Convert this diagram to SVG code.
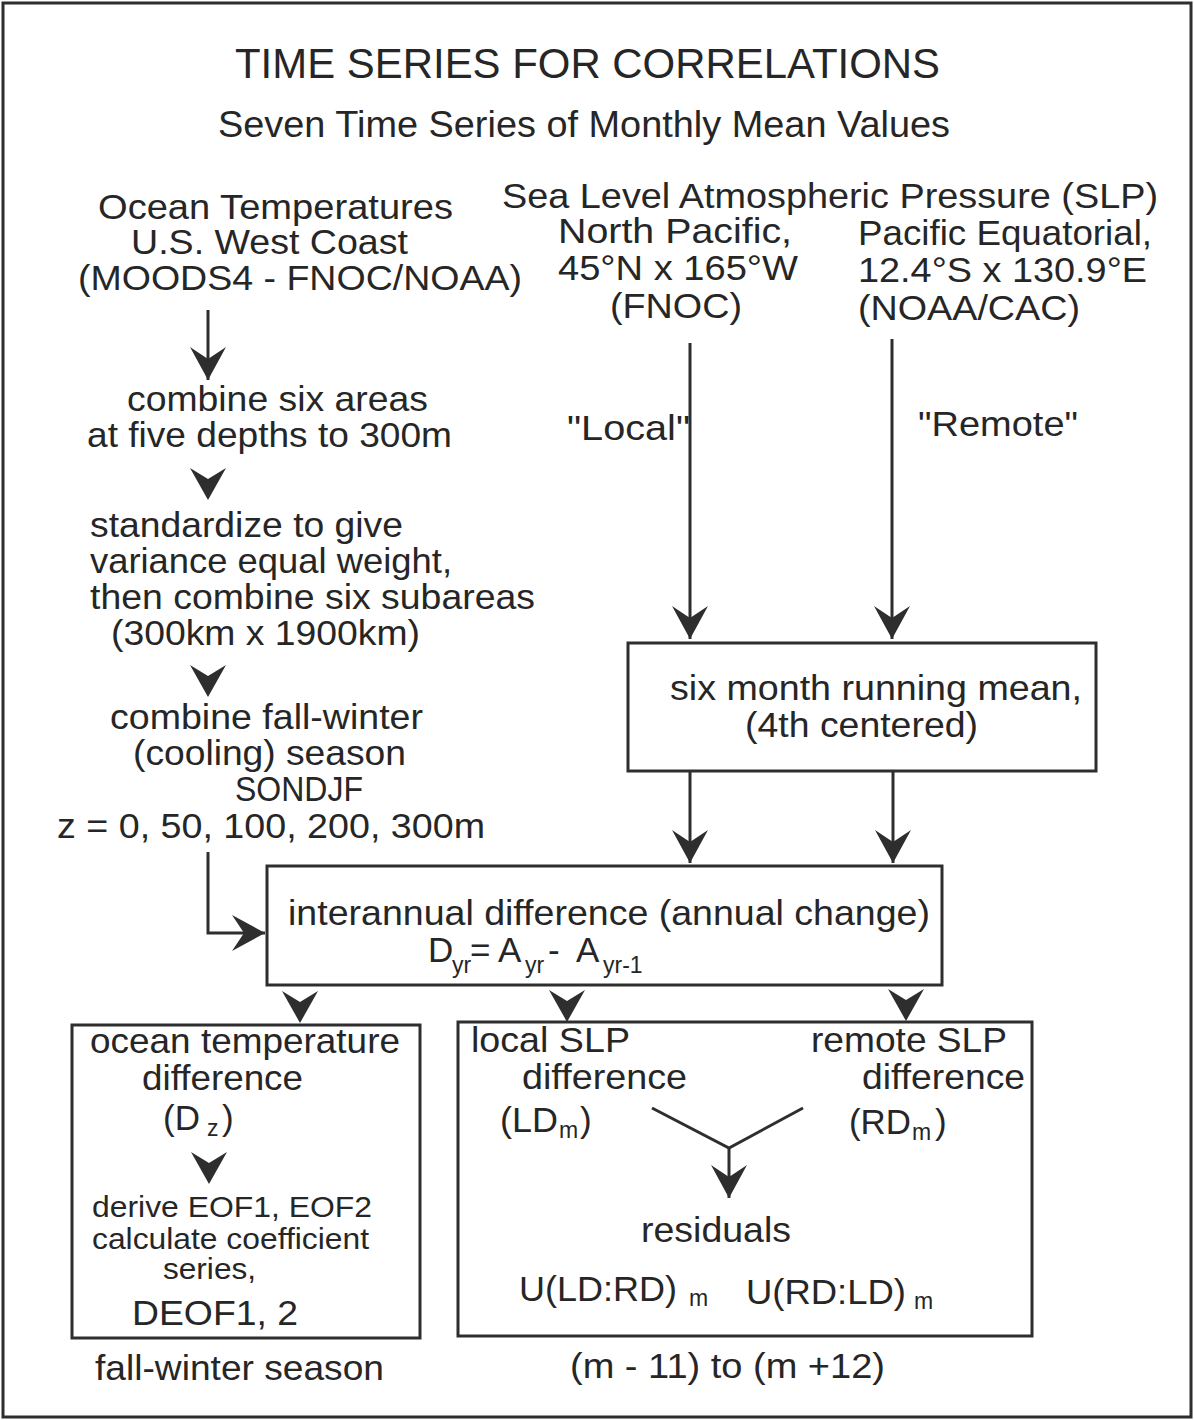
<svg xmlns="http://www.w3.org/2000/svg" xmlns:xlink="http://www.w3.org/1999/xlink" width="1194" height="1420" viewBox="0 0 1194 1420">
<style>
  text { font-family: "Liberation Sans", Arial, sans-serif; fill: #262626; font-size: 35px; }
  .title { font-size: 43px; }
  .sub { font-size: 36px; }
  .small { font-size: 30px; }
  .s { font-size: 23px; }
  .box { fill: none; stroke: #2e2e2e; stroke-width: 3; }
  .ln { fill: none; stroke: #2e2e2e; stroke-width: 3; }
</style>
<defs>
  <marker id="ah" markerUnits="userSpaceOnUse" markerWidth="40" markerHeight="40" viewBox="-34 -20 36 40" refX="0" refY="0" orient="auto">
    <path d="M0,0 L-33,-18 L-21,0 L-33,18 Z" fill="#2e2e2e"/>
  </marker>
  <path id="chev" d="M0,0 L-18,-32 L0,-21 L18,-32 Z" fill="#2e2e2e"/>
</defs>

<rect x="3" y="3" width="1188" height="1414" class="box" stroke-width="2.5"/>

<g id="title">
  <text class="title" x="235" y="78" textLength="705" lengthAdjust="spacingAndGlyphs">TIME SERIES FOR CORRELATIONS</text>
  <text class="sub" x="218" y="137" textLength="732" lengthAdjust="spacingAndGlyphs">Seven Time Series of Monthly Mean Values</text>
</g>

<g id="ocean-source">
  <text x="98" y="219" textLength="355" lengthAdjust="spacingAndGlyphs">Ocean Temperatures</text>
  <text x="131" y="254" textLength="277" lengthAdjust="spacingAndGlyphs">U.S. West Coast</text>
  <text x="78" y="290" textLength="444" lengthAdjust="spacingAndGlyphs">(MOODS4 - FNOC/NOAA)</text>
</g>

<g id="combine-areas">
  <text x="127" y="411" textLength="301" lengthAdjust="spacingAndGlyphs">combine six areas</text>
  <text x="87" y="447" textLength="365" lengthAdjust="spacingAndGlyphs">at five depths to 300m</text>
</g>

<g id="standardize">
  <text x="90" y="537" textLength="313" lengthAdjust="spacingAndGlyphs">standardize to give</text>
  <text x="90" y="573" textLength="362" lengthAdjust="spacingAndGlyphs">variance equal weight,</text>
  <text x="90" y="609" textLength="445" lengthAdjust="spacingAndGlyphs">then combine six subareas</text>
  <text x="111" y="645" textLength="309" lengthAdjust="spacingAndGlyphs">(300km x 1900km)</text>
</g>

<g id="combine-season">
  <text x="110" y="729" textLength="313" lengthAdjust="spacingAndGlyphs">combine fall-winter</text>
  <text x="133" y="765" textLength="273" lengthAdjust="spacingAndGlyphs">(cooling) season</text>
  <text x="235" y="801" textLength="128" lengthAdjust="spacingAndGlyphs">SONDJF</text>
  <text x="57" y="838" textLength="428" lengthAdjust="spacingAndGlyphs">z = 0, 50, 100, 200, 300m</text>
</g>

<g id="slp-source">
  <text x="502" y="208" textLength="656" lengthAdjust="spacingAndGlyphs">Sea Level Atmospheric Pressure (SLP)</text>
</g>
<g id="north-pacific">
  <text x="558" y="243" textLength="234" lengthAdjust="spacingAndGlyphs">North Pacific,</text>
  <text x="558" y="280" textLength="240" lengthAdjust="spacingAndGlyphs">45°N x 165°W</text>
  <text x="610" y="318" textLength="132" lengthAdjust="spacingAndGlyphs">(FNOC)</text>
</g>
<g id="pacific-equatorial">
  <text x="858" y="245" textLength="294" lengthAdjust="spacingAndGlyphs">Pacific Equatorial,</text>
  <text x="858" y="282" textLength="289" lengthAdjust="spacingAndGlyphs">12.4°S x 130.9°E</text>
  <text x="858" y="320" textLength="222" lengthAdjust="spacingAndGlyphs">(NOAA/CAC)</text>
</g>

<g id="running-mean">
  <rect x="628" y="643" width="468" height="128" class="box"/>
  <text x="670" y="700" textLength="412" lengthAdjust="spacingAndGlyphs">six month running mean,</text>
  <text x="745" y="737" textLength="233" lengthAdjust="spacingAndGlyphs">(4th centered)</text>
</g>

<g id="interannual">
  <rect x="267" y="866" width="675" height="119" class="box"/>
  <text x="288" y="925" textLength="642" lengthAdjust="spacingAndGlyphs">interannual difference (annual change)</text>
  <text x="428" y="962">D</text>
  <text class="s" x="452" y="973">yr</text>
  <text x="470" y="962">=</text>
  <text x="498" y="962">A</text>
  <text class="s" x="525" y="973">yr</text>
  <text x="548" y="962">-</text>
  <text x="576" y="962">A</text>
  <text class="s" x="603" y="973">yr-1</text>
</g>

<g id="ocean-diff">
  <rect x="72" y="1025" width="348" height="313" class="box"/>
  <text x="90" y="1053" textLength="310" lengthAdjust="spacingAndGlyphs">ocean temperature</text>
  <text x="142" y="1090" textLength="161" lengthAdjust="spacingAndGlyphs">difference</text>
  <text x="163" y="1130">(D</text>
  <text class="s" x="207" y="1136">z</text>
  <text x="222" y="1130">)</text>
  <text class="small" x="92" y="1217" textLength="280" lengthAdjust="spacingAndGlyphs">derive EOF1, EOF2</text>
  <text class="small" x="92" y="1249" textLength="277" lengthAdjust="spacingAndGlyphs">calculate coefficient</text>
  <text class="small" x="163" y="1279" textLength="93" lengthAdjust="spacingAndGlyphs">series,</text>
  <text x="132" y="1325" textLength="166" lengthAdjust="spacingAndGlyphs">DEOF1, 2</text>
</g>
<text id="season-label" x="95" y="1380" textLength="289" lengthAdjust="spacingAndGlyphs">fall-winter season</text>

<g id="slp-diff">
  <rect x="458" y="1022" width="574" height="314" class="box"/>
  <text x="471" y="1052" textLength="159" lengthAdjust="spacingAndGlyphs">local SLP</text>
  <text x="522" y="1089" textLength="165" lengthAdjust="spacingAndGlyphs">difference</text>
  <text x="500" y="1132" textLength="58" lengthAdjust="spacingAndGlyphs">(LD</text>
  <text class="s" x="559" y="1138">m</text>
  <text x="580" y="1132">)</text>
  <text x="811" y="1052" textLength="196" lengthAdjust="spacingAndGlyphs">remote SLP</text>
  <text x="862" y="1089" textLength="163" lengthAdjust="spacingAndGlyphs">difference</text>
  <text x="849" y="1134" textLength="62" lengthAdjust="spacingAndGlyphs">(RD</text>
  <text class="s" x="912" y="1140">m</text>
  <text x="935" y="1134">)</text>
  <text x="641" y="1242" textLength="150" lengthAdjust="spacingAndGlyphs">residuals</text>
  <text x="519" y="1301" textLength="158" lengthAdjust="spacingAndGlyphs">U(LD:RD)</text>
  <text class="s" x="689" y="1306">m</text>
  <text x="746" y="1304" textLength="160" lengthAdjust="spacingAndGlyphs">U(RD:LD)</text>
  <text class="s" x="914" y="1309">m</text>
</g>
<text id="lag-label" x="570" y="1378" textLength="315" lengthAdjust="spacingAndGlyphs">(m - 11) to (m +12)</text>

<g id="connectors">
  <line x1="208" y1="310" x2="208" y2="380" class="ln" marker-end="url(#ah)"/>
  <use xlink:href="#chev" x="208" y="500"/>
  <use xlink:href="#chev" x="208" y="697"/>
  <polyline points="208,852 208,933 265,933" class="ln" marker-end="url(#ah)"/>
  <line x1="690" y1="343" x2="690" y2="639" class="ln" marker-end="url(#ah)"/>
  <text x="567" y="440" textLength="123" lengthAdjust="spacingAndGlyphs">"Local"</text>
  <line x1="892" y1="339" x2="892" y2="639" class="ln" marker-end="url(#ah)"/>
  <text x="918" y="436" textLength="160" lengthAdjust="spacingAndGlyphs">"Remote"</text>
  <line x1="690" y1="771" x2="690" y2="863" class="ln" marker-end="url(#ah)"/>
  <line x1="893" y1="771" x2="893" y2="863" class="ln" marker-end="url(#ah)"/>
  <use xlink:href="#chev" x="300" y="1023"/>
  <use xlink:href="#chev" x="567" y="1022"/>
  <use xlink:href="#chev" x="906" y="1021"/>
  <use xlink:href="#chev" x="209" y="1184"/>
  <polyline points="652,1108 729,1148 803,1108" class="ln" stroke-width="2.5"/>
  <line x1="729" y1="1148" x2="729" y2="1198" class="ln" stroke-width="2.5" marker-end="url(#ah)"/>
</g>
</svg>
